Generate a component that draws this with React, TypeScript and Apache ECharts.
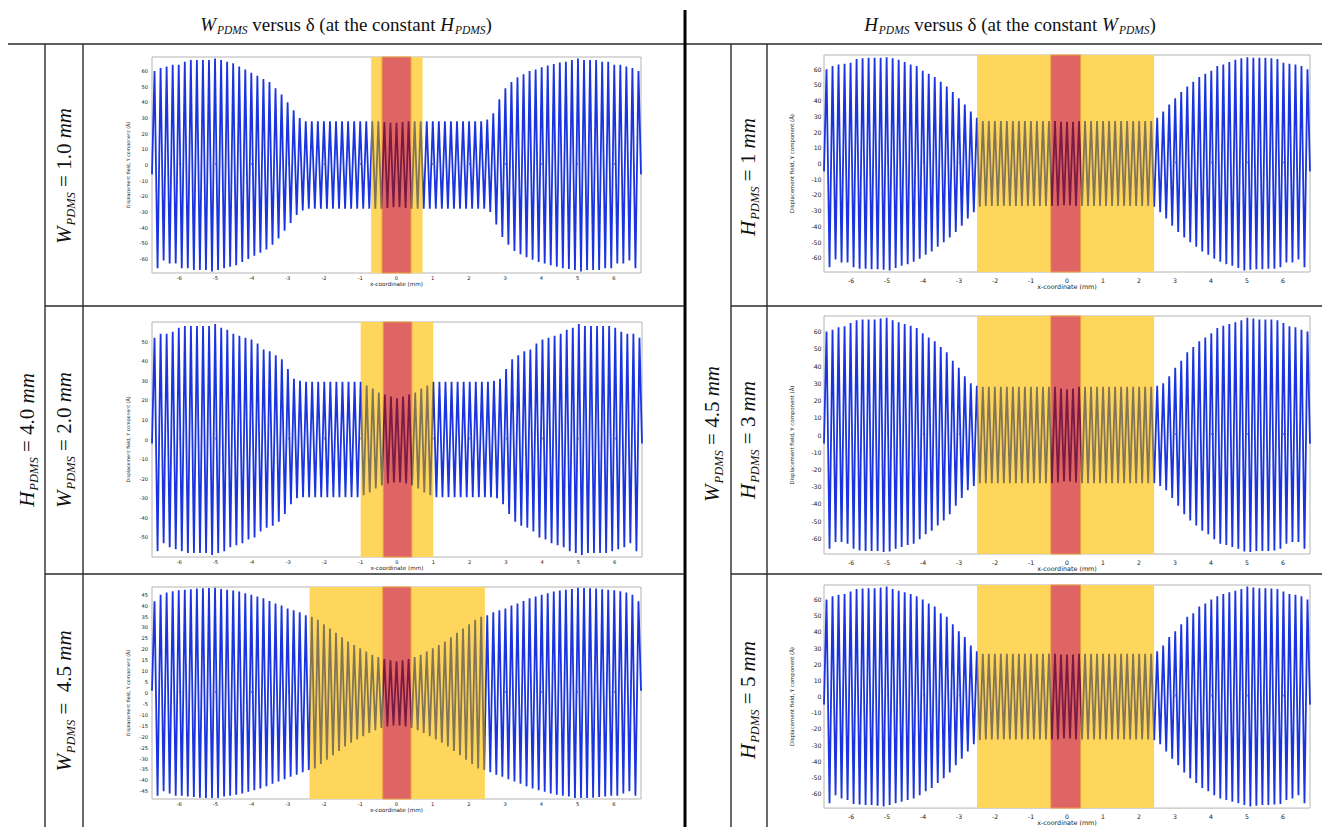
import React, { useEffect, useRef } from "react";
import * as echarts from "echarts";

// ---- sampling grid of the displacement trace (alternating maxima / minima) ----
const X_MIN = -6.75;
const X_MAX = 6.75;
const FIRST_EXTREMUM_X = -6.68;
const HALF_PERIOD = 0.0835;

// ---- tick labels ----
const xTickValues = [-6, -5, -4, -3, -2, -1, 0, 1, 2, 3, 4, 5, 6];
const yTicks60 = [-60, -50, -40, -30, -20, -10, 0, 10, 20, 30, 40, 50, 60];
const yTicks50 = [-50, -40, -30, -20, -10, 0, 10, 20, 30, 40, 50];
const yTicks45 = [-45, -40, -35, -30, -25, -20, -15, -10, -5, 0, 5, 10, 15, 20, 25, 30, 35, 40, 45];

// ---- |peak| of every extremum, left half then right half (maxima at even index) ----
// W_PDMS = 1.0 mm
const peaksW10Left = [
  60, 66, 62, 61, 63, 63, 64, 63, 64, 66,
  66, 66, 67, 67, 67, 67, 67, 67, 67, 68,
  68, 67, 67, 66, 66, 65, 65, 64, 63, 62,
  61, 60, 59, 58, 57, 56, 55, 54, 53, 51,
  49, 47, 45, 42, 40, 37, 35, 32, 30, 29,
  28, 28, 28, 28, 28, 28, 28, 28, 28, 28,
  28, 28, 28, 28, 28, 28, 28, 28, 28, 28,
  28, 28, 28, 28, 28, 28, 27.5, 27.5, 27, 27,
  27,
];
const peaksW10Right = [
  27, 27.5, 27.5, 28, 28, 28, 28, 28, 28, 28,
  28, 28, 28, 28, 28, 28, 28, 28, 28, 28,
  28, 28, 28, 28, 28, 28, 28, 28, 28, 29,
  30, 33, 38, 42, 46, 49, 51, 53, 55, 56,
  57, 58, 59, 60, 60.5, 61, 62, 62.5, 63, 63.5,
  64, 64.5, 65, 65.5, 66, 66, 66.5, 67, 67, 68,
  68, 67, 67, 67, 67, 67, 67, 66, 66, 66,
  66, 64, 63, 64, 63, 63, 61, 62, 66, 60,
];
// W_PDMS = 2.0 mm
const peaksW20Left = [
  52, 57, 54, 53, 54, 55, 55, 56, 57, 57,
  58, 58, 58, 58, 58, 58, 58, 58, 58, 59,
  59, 58, 57, 57, 56, 55, 54, 54, 53, 53,
  52, 51, 51, 50, 49, 47, 46, 45, 45, 44,
  43, 42, 41, 38, 36, 33, 31, 30, 30, 29.5,
  29.5, 29.5, 29.5, 29.5, 29.5, 29.5, 29.5, 29.5, 29.5, 29.5,
  29.5, 29.5, 29.5, 29.5, 29.5, 29.5, 29.5, 29.5, 29.5, 28.5,
  27.5, 27, 26, 25, 24, 23.5, 23, 22.5, 22, 22,
  21,
];
const peaksW20Right = [
  22, 22, 22.5, 23, 23.5, 24, 25, 26, 27, 27.5,
  28.5, 29.5, 29.5, 29.5, 29.5, 29.5, 29.5, 29.5, 29.5, 29.5,
  29.5, 29.5, 29.5, 29.5, 29.5, 29.5, 29.5, 29.5, 29.5, 29.5,
  29.5, 30, 30, 31, 33, 36, 38, 41, 42, 43,
  44, 45, 45, 46, 47, 49, 50, 51, 51, 52,
  53, 53, 54, 54, 55, 56, 57, 57, 58, 59,
  59, 58, 58, 58, 58, 58, 58, 58, 58, 58,
  57, 57, 56, 55, 55, 54, 53, 54, 57, 52,
];
// W_PDMS = 4.5 mm
const peaksW45Left = [
  42, 47, 45, 45, 46, 46, 46.5, 47, 47, 47,
  47.2, 47.4, 47.5, 47.6, 47.8, 47.9, 47.9, 48, 48, 48,
  48.2, 48, 47.6, 47.4, 47.2, 47, 46.9, 46.6, 46.4, 46,
  45.6, 45.2, 44.9, 44.5, 44.1, 43.7, 43.3, 42.7, 42.1, 41.5,
  41, 40.5, 40, 39.4, 38.7, 38.3, 37.9, 37.4, 36.9, 36.2,
  35.6, 35.2, 34.9, 34.5, 33.5, 32.5, 31.5, 30.5, 29.5, 28.5,
  27.5, 26.5, 25.5, 24.5, 23.5, 22.8, 22, 21.3, 20.5, 19.8,
  19, 18.3, 17.5, 17, 16.5, 16, 15.5, 15.3, 15, 14.8,
  14.5,
];
const peaksW45Right = [
  14.8, 15, 15.3, 15.5, 16, 16.5, 17, 17.5, 18.3, 19,
  19.8, 20.5, 21.3, 22, 22.8, 23.5, 24.5, 25.5, 26.5, 27.5,
  28.5, 29.5, 30.5, 31.5, 32.5, 33.5, 34.5, 34.9, 35.2, 35.6,
  36.2, 36.9, 37.4, 37.9, 38.3, 38.7, 39.4, 40, 40.5, 41,
  41.5, 42.1, 42.7, 43.3, 43.7, 44.1, 44.5, 44.9, 45.2, 45.6,
  46, 46.4, 46.6, 46.9, 47, 47.2, 47.4, 47.6, 48, 48.2,
  48, 48, 48, 47.9, 47.9, 47.8, 47.6, 47.5, 47.4, 47.2,
  47, 47, 47, 46.5, 46, 46, 45, 45, 47, 42,
];
// H_PDMS = 1 mm
const peaksH1Left = [
  60, 66, 62, 61, 63, 63, 63.5, 63, 64, 66,
  66.5, 67, 67, 67, 67.3, 67.3, 67.3, 67.3, 67.3, 67.5,
  67.5, 68, 67, 66.5, 66, 65, 64.5, 64, 63, 62.5,
  62, 60.5, 59, 58, 57, 56, 55, 53, 52, 50,
  49, 47, 45.5, 43.5, 41.5, 39.5, 37.5, 35, 33, 31,
  29, 27.5, 27, 27, 27, 27, 27, 27, 27, 27,
  27, 27, 27, 27, 27, 27, 27, 27, 27, 27,
  27, 27, 27, 27, 27, 27, 27, 27, 26.5, 26.5,
  26.5,
];
const peaksH1Right = [
  26.5, 26.5, 27, 27, 27, 27, 27, 27, 27, 27,
  27, 27, 27, 27, 27, 27, 27, 27, 27, 27,
  27, 27, 27, 27, 27, 27, 27, 27, 27.5, 29,
  31, 33, 35, 37.5, 39.5, 41.5, 43.5, 45.5, 47, 49,
  50, 52, 53, 55, 56, 57, 58, 59, 60.5, 62,
  62.5, 63, 64, 64.5, 65, 66, 66.5, 67, 68, 67.5,
  67.5, 67.3, 67.3, 67.3, 67.3, 67.3, 67, 67, 67, 66.5,
  66, 64, 63, 63.5, 63, 63, 61, 62, 66, 60,
];
// H_PDMS = 3 mm
const peaksH3Left = [
  60, 66, 61, 62, 62.5, 62, 63, 63, 65, 66,
  66.5, 67, 67, 67.3, 67, 67.3, 67, 67.3, 67.5, 67.8,
  68, 67.5, 66.5, 66, 65.3, 65, 64.3, 63.8, 63.3, 63,
  62, 60.5, 59, 57.5, 56.5, 55.5, 54.3, 52.5, 51, 49.5,
  48, 46, 43, 41, 39, 36.5, 34, 32, 30, 29.5,
  28.5, 28, 28, 28, 28, 28, 28, 28, 28, 28,
  28, 28, 28, 28, 28, 28, 28, 28, 28, 28,
  28, 28, 28, 28, 28, 28, 28, 27.5, 27, 27,
  26.5,
];
const peaksH3Right = [
  27, 27, 27.5, 28, 28, 28, 28, 28, 28, 28,
  28, 28, 28, 28, 28, 28, 28, 28, 28, 28,
  28, 28, 28, 28, 28, 28, 28, 28, 28, 28.5,
  29.5, 30, 32, 34, 36.5, 39, 41, 43, 46, 48,
  49.5, 51, 52.5, 54.3, 55.5, 56.5, 57.5, 59, 60.5, 62,
  63, 63.3, 63.8, 64.3, 65, 65.3, 66, 66.5, 67.5, 68,
  67.8, 67.5, 67.3, 67, 67.3, 67, 67.3, 67, 67, 66.5,
  66, 65, 63, 63, 62, 62.5, 62, 61, 66, 60,
];
// H_PDMS = 5 mm
const peaksH5Left = [
  60, 66, 62, 61, 63, 63, 63.4, 64, 65, 66.4,
  66.5, 66.8, 66.8, 67, 67, 67, 67, 67.5, 67.5, 68,
  68, 67, 66.5, 66, 65.5, 65, 64.5, 64, 63.5, 63,
  62, 61, 60, 58.5, 57.5, 56.5, 55.7, 53.5, 51.5, 50.5,
  49.4, 47, 44.7, 42.5, 40.4, 38.5, 36.8, 34, 31.5, 29.5,
  28, 27, 26.5, 26.5, 26.5, 26.5, 26.5, 26.5, 26.5, 26.5,
  26.5, 26.5, 26.5, 26.5, 26.5, 26.5, 26.5, 26.5, 26.5, 26.5,
  26.5, 26.5, 26.5, 26.5, 26.5, 26.5, 26.5, 26.5, 26, 26,
  26,
];
const peaksH5Right = [
  26, 26, 26.5, 26.5, 26.5, 26.5, 26.5, 26.5, 26.5, 26.5,
  26.5, 26.5, 26.5, 26.5, 26.5, 26.5, 26.5, 26.5, 26.5, 26.5,
  26.5, 26.5, 26.5, 26.5, 26.5, 26.5, 26.5, 26.5, 27, 28,
  29.5, 31.5, 34, 36.8, 38.5, 40.4, 42.5, 44.7, 47, 49.4,
  50.5, 51.5, 53.5, 55.7, 56.5, 57.5, 58.5, 60, 61, 62,
  63, 63.5, 64, 64.5, 65, 65.5, 66, 66.5, 67, 68,
  68, 67.5, 67.5, 67, 67, 67, 67, 66.8, 66.8, 66.5,
  66.4, 65, 64, 63.4, 63, 63, 61, 62, 66, 60,
];

// trace value at x = -6.75 and x = 6.75
const edgeValues = [[-6, -6], [-2, -2], [1, 1], [-5, -5], [-5, -5], [-5, -5]];

// y extents of each plot
const yRanges = [[-69, 69], [-60, 60], [-48.5, 48.5], [-69, 69], [-69, 69], [-69, 69]];

// shaded zones along x (mm): wide yellow band and narrow red band
const outerZones = [[-0.7, 0.72], [-1, 1], [-2.4, 2.44], [-2.5, 2.42], [-2.5, 2.42], [-2.5, 2.42]];
const innerZones = [[-0.4, 0.4], [-0.38, 0.41], [-0.38, 0.4], [-0.45, 0.38], [-0.45, 0.38], [-0.45, 0.38]];

const amplitudeSets = [
  [peaksW10Left, peaksW10Right],
  [peaksW20Left, peaksW20Right],
  [peaksW45Left, peaksW45Right],
  [peaksH1Left, peaksH1Right],
  [peaksH3Left, peaksH3Right],
  [peaksH5Left, peaksH5Right],
];
const yTickSets = [yTicks60, yTicks50, yTicks45, yTicks60, yTicks60, yTicks60];

// plot boxes inside the table cells
const plotBoxes = [
  { left: 152, top: 57, width: 489, height: 216, wide: false },
  { left: 152, top: 322, width: 490, height: 235, wide: false },
  { left: 152, top: 587, width: 489, height: 212, wide: false },
  { left: 824, top: 55, width: 486, height: 217, wide: true },
  { left: 824, top: 316, width: 486, height: 238, wide: true },
  { left: 824, top: 585, width: 486, height: 227, wide: true },
];

const BLUE = "#1a35df";
const OLIVE = "#837456";
const MAROON = "#7a1a42";
const YELLOW = "#ffd65c";
const RED = "#df6464";
const SERIF = "Liberation Serif";
const SANS = "DejaVu Sans";

function buildTrace(i: number): [number, number][] {
  const [leftHalf, rightHalf] = amplitudeSets[i];
  const peaks = leftHalf.concat(rightHalf);
  const pts: [number, number][] = [[X_MIN, edgeValues[i][0]]];
  peaks.forEach((a, j) => {
    const x = +(FIRST_EXTREMUM_X + j * HALF_PERIOD).toFixed(4);
    pts.push([x, j % 2 === 0 ? a : -a]);
  });
  pts.push([X_MAX, edgeValues[i][1]]);
  return pts;
}

const mathRich = (size: number, sub: number, shift: number) => ({
  v: { fontFamily: SERIF, fontStyle: "italic", fontSize: size, fill: "#111" },
  n: { fontFamily: SERIF, fontSize: size, fill: "#111" },
  s: {
    fontFamily: SERIF,
    fontStyle: "italic",
    fontSize: sub,
    lineHeight: sub,
    padding: [shift, 0, 0, 1],
    fill: "#111",
  },
});

function tableGraphics() {
  const stroke = "#2a2a2a";
  const ln = (x1: number, y1: number, x2: number, y2: number, w = 1.4, c = stroke) => ({
    type: "line",
    silent: true,
    z: 100,
    shape: { x1, y1, x2, y2 },
    style: { stroke: c, lineWidth: w },
  });
  const rot = (x: number, y: number, text: string) => ({
    type: "text",
    silent: true,
    z: 100,
    x,
    y,
    rotation: Math.PI / 2,
    style: {
      text,
      align: "center",
      verticalAlign: "middle",
      rich: mathRich(21, 12.5, 13),
    },
  });
  const head = (x: number, y: number, text: string) => ({
    type: "text",
    silent: true,
    z: 100,
    x,
    y,
    style: {
      text,
      align: "center",
      verticalAlign: "middle",
      rich: mathRich(19, 11.5, 11),
    },
  });
  return [
    ln(8, 44, 1322, 44),
    ln(685, 10, 685, 827, 3, "#000"),
    ln(45, 44, 45, 827),
    ln(83, 44, 83, 827),
    ln(45, 306, 684, 306),
    ln(45, 574, 684, 574),
    ln(731, 44, 731, 827),
    ln(767, 44, 767, 827),
    ln(731, 306, 1322, 306),
    ln(731, 574, 1322, 574),
    head(346, 24, "{v|W}{s|PDMS}{n| versus δ (at the constant }{v|H}{s|PDMS}{n|)}"),
    head(1010, 24, "{v|H}{s|PDMS}{n| versus δ (at the constant }{v|W}{s|PDMS}{n|)}"),
    rot(27, 440, "{v|H}{s|PDMS}{n| = 4.0 }{v|mm}"),
    rot(64, 176, "{v|W}{s|PDMS}{n| = 1.0 }{v|mm}"),
    rot(64, 440, "{v|W}{s|PDMS}{n| = 2.0 }{v|mm}"),
    rot(64, 701, "{v|W}{s|PDMS}{n| =  4.5 }{v|mm}"),
    rot(712, 434, "{v|W}{s|PDMS}{n| = 4.5 }{v|mm}"),
    rot(748, 177, "{v|H}{s|PDMS}{n| = 1 }{v|mm}"),
    rot(748, 440, "{v|H}{s|PDMS}{n| = 3 }{v|mm}"),
    rot(748, 700, "{v|H}{s|PDMS}{n| = 5 }{v|mm}"),
  ];
}

function buildOption() {
  const grid: any[] = [];
  const xAxis: any[] = [];
  const yAxis: any[] = [];
  const series: any[] = [];
  const visualMap: any[] = [];

  plotBoxes.forEach((box, i) => {
    const tickFont = box.wide ? 6.2 : 5.2;
    const yNameFont = box.wide ? 5.4 : 4.7;
    const xNameFont = box.wide ? 6.4 : 5.7;
    grid.push({
      left: box.left,
      top: box.top,
      width: box.width,
      height: box.height,
      show: true,
      borderColor: "#b4b4b4",
      borderWidth: 1,
      backgroundColor: "#fff",
    });
    xAxis.push({
      type: "value",
      gridIndex: i,
      min: X_MIN,
      max: X_MAX,
      axisLine: { show: false },
      splitLine: { show: false },
      axisTick: {
        show: true,
        inside: true,
        length: 2,
        customValues: xTickValues,
        lineStyle: { color: "#9a9a9a" },
      },
      axisLabel: {
        customValues: xTickValues,
        fontSize: tickFont,
        fontFamily: SANS,
        color: "#222",
        margin: box.wide ? 5 : 2,
      },
      name: "x-coordinate (mm)",
      nameLocation: "middle",
      nameGap: box.wide ? 11 : 8,
      nameTextStyle: { fontSize: xNameFont, fontFamily: SANS, color: "#222" },
    });
    yAxis.push({
      type: "value",
      gridIndex: i,
      min: yRanges[i][0],
      max: yRanges[i][1],
      axisLine: { show: false },
      splitLine: { show: false },
      axisTick: {
        show: true,
        inside: true,
        length: 2,
        customValues: yTickSets[i],
        lineStyle: { color: "#9a9a9a" },
      },
      axisLabel: {
        customValues: yTickSets[i],
        fontSize: tickFont,
        fontFamily: SANS,
        color: "#222",
        margin: box.wide ? 2.5 : 4,
      },
      name: "Displacement field, Y component (Å)",
      nameLocation: "middle",
      nameGap: box.wide ? 29.5 : 21.5,
      nameTextStyle: { fontSize: yNameFont, fontFamily: SANS, color: "#222" },
    });

    const [o0, o1] = outerZones[i];
    const [r0, r1] = innerZones[i];
    // shaded bands, drawn beneath the trace
    series.push({
      type: "line",
      xAxisIndex: i,
      yAxisIndex: i,
      data: [],
      z: 1,
      silent: true,
      markArea: {
        silent: true,
        data: [
          [{ xAxis: o0, itemStyle: { color: YELLOW } }, { xAxis: o1 }],
          [
            { xAxis: r0, itemStyle: { color: RED, borderColor: "#f0a040", borderWidth: 1 } },
            { xAxis: r1 },
          ],
        ],
      },
    });
    // displacement trace; its colour per x range comes from the visualMap below
    series.push({
      type: "line",
      xAxisIndex: i,
      yAxisIndex: i,
      data: buildTrace(i),
      z: 3,
      silent: true,
      symbol: "none",
      showSymbol: false,
      lineStyle: { width: 1.8 },
    });
    visualMap.push({
      type: "piecewise",
      show: false,
      seriesIndex: 2 * i + 1,
      dimension: 0,
      pieces: [
        { lt: o0, color: BLUE },
        { gte: o0, lt: r0, color: OLIVE },
        { gte: r0, lte: r1, color: MAROON },
        { gt: r1, lte: o1, color: OLIVE },
        { gt: o1, color: BLUE },
      ],
    });
  });

  return {
    animation: false,
    backgroundColor: "#fff",
    grid,
    xAxis,
    yAxis,
    series,
    visualMap,
    graphic: tableGraphics(),
  };
}

export default function App() {
  const ref = useRef<HTMLDivElement>(null);
  useEffect(() => {
    if (!ref.current) return;
    const chart = echarts.init(ref.current, null, { renderer: "svg" });
    chart.setOption(buildOption() as any);
    return () => chart.dispose();
  }, []);
  return (
    <div
      ref={ref}
      style={{ position: "absolute", left: 0, top: 0, width: 1322, height: 827, background: "#fff" }}
    />
  );
}
